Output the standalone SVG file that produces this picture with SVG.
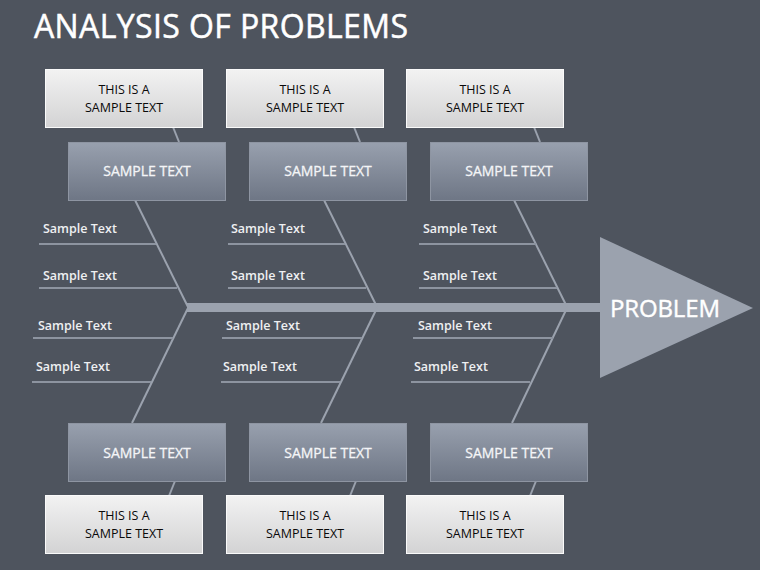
<svg xmlns="http://www.w3.org/2000/svg" width="760" height="570" viewBox="0 0 760 570">
<defs>
<linearGradient id="gLight" x1="0" y1="0" x2="0" y2="1">
<stop offset="0" stop-color="#f2f2f2"/><stop offset="1" stop-color="#d3d3d4"/>
</linearGradient>
<linearGradient id="gMid" x1="0" y1="0" x2="0" y2="1">
<stop offset="0" stop-color="#98a0ae"/><stop offset="1" stop-color="#6e7685"/>
</linearGradient>
<style>
.light{fill:url(#gLight);stroke:#fafafa;stroke-width:1}
.mid{fill:url(#gMid);stroke:#8e95a2;stroke-width:1}
.lt{font-family:"Open Sans","DejaVu Sans",sans-serif;font-size:12.5px;fill:#0a0a0a;text-anchor:middle}
.mt{font-family:"Open Sans","DejaVu Sans",sans-serif;font-size:14px;fill:#f4f5f7;stroke:#f4f5f7;stroke-width:0.3;text-anchor:middle}
.st{font-family:"Open Sans","DejaVu Sans",sans-serif;font-size:12.5px;font-weight:600;fill:#eef0f2}
.bone{stroke:#9ba2ae;stroke-width:2;fill:none}
.hl{stroke:#8d94a0;stroke-width:2;fill:none}
</style>
</defs>
<rect width="760" height="570" fill="#4e545e"/>
<text x="34" y="38" font-family="'Open Sans','DejaVu Sans',sans-serif" font-size="32" textLength="374" fill="#ffffff" stroke="#ffffff" stroke-width="0.5">ANALYSIS OF PROBLEMS</text>

<g id="connectors">
<rect x="187" y="303" width="416" height="9" fill="#9ba2ae"/>
<line class="bone" x1="173" y1="127" x2="179" y2="142"/>
<line class="bone" x1="135" y1="200" x2="188" y2="307"/>
<line class="bone" x1="188" y1="308" x2="132" y2="423"/>
<line class="bone" x1="175" y1="481" x2="169" y2="496"/>
<line class="hl" x1="39" y1="244" x2="156" y2="244"/>
<line class="hl" x1="39" y1="288" x2="177" y2="288"/>
<line class="hl" x1="33" y1="338" x2="173" y2="338"/>
<line class="hl" x1="32" y1="382" x2="151" y2="382"/>
<line class="bone" x1="354" y1="127" x2="360" y2="142"/>
<line class="bone" x1="324" y1="200" x2="377" y2="307"/>
<line class="bone" x1="377" y1="308" x2="321" y2="423"/>
<line class="bone" x1="356" y1="481" x2="350" y2="496"/>
<line class="hl" x1="228" y1="244" x2="345" y2="244"/>
<line class="hl" x1="228" y1="288" x2="366" y2="288"/>
<line class="hl" x1="222" y1="338" x2="362" y2="338"/>
<line class="hl" x1="221" y1="382" x2="340" y2="382"/>
<line class="bone" x1="534" y1="127" x2="540" y2="142"/>
<line class="bone" x1="514" y1="200" x2="567" y2="307"/>
<line class="bone" x1="567" y1="308" x2="512" y2="423"/>
<line class="bone" x1="536" y1="481" x2="530" y2="496"/>
<line class="hl" x1="419" y1="244" x2="536" y2="244"/>
<line class="hl" x1="419" y1="288" x2="557" y2="288"/>
<line class="hl" x1="413" y1="338" x2="553" y2="338"/>
<line class="hl" x1="411" y1="382" x2="530" y2="382"/>
</g>

<g id="labels">
<text class="st" x="43" y="233">Sample Text</text>
<text class="st" x="43" y="280">Sample Text</text>
<text class="st" x="38" y="330">Sample Text</text>
<text class="st" x="36" y="371">Sample Text</text>
<text class="st" x="231" y="233">Sample Text</text>
<text class="st" x="231" y="280">Sample Text</text>
<text class="st" x="226" y="330">Sample Text</text>
<text class="st" x="223" y="371">Sample Text</text>
<text class="st" x="423" y="233">Sample Text</text>
<text class="st" x="423" y="280">Sample Text</text>
<text class="st" x="418" y="330">Sample Text</text>
<text class="st" x="414" y="371">Sample Text</text>
</g>

<g id="problem">
<polygon points="600,237 753,308 600,378" fill="#9ba2ae"/>
<text x="610" y="317" font-family="'Open Sans','DejaVu Sans',sans-serif" font-size="24" textLength="110" fill="#ffffff" stroke="#ffffff" stroke-width="0.4">PROBLEM</text>
</g>

<g id="top1"><rect class="light" x="45.5" y="69.5" width="157" height="58"/><text class="lt" x="124" y="94">THIS IS A</text><text class="lt" x="124" y="111.5">SAMPLE TEXT</text></g>
<g id="top2"><rect class="light" x="226.5" y="69.5" width="157" height="58"/><text class="lt" x="305" y="94">THIS IS A</text><text class="lt" x="305" y="111.5">SAMPLE TEXT</text></g>
<g id="top3"><rect class="light" x="406.5" y="69.5" width="157" height="58"/><text class="lt" x="485" y="94">THIS IS A</text><text class="lt" x="485" y="111.5">SAMPLE TEXT</text></g>

<g id="cause1"><rect class="mid" x="68.5" y="142.5" width="157" height="58"/><text class="mt" x="147" y="176">SAMPLE TEXT</text></g>
<g id="cause2"><rect class="mid" x="249.5" y="142.5" width="157" height="58"/><text class="mt" x="328" y="176">SAMPLE TEXT</text></g>
<g id="cause3"><rect class="mid" x="430.5" y="142.5" width="157" height="58"/><text class="mt" x="509" y="176">SAMPLE TEXT</text></g>

<g id="cause4"><rect class="mid" x="68.5" y="423.5" width="157" height="58"/><text class="mt" x="147" y="458">SAMPLE TEXT</text></g>
<g id="cause5"><rect class="mid" x="249.5" y="423.5" width="157" height="58"/><text class="mt" x="328" y="458">SAMPLE TEXT</text></g>
<g id="cause6"><rect class="mid" x="430.5" y="423.5" width="157" height="58"/><text class="mt" x="509" y="458">SAMPLE TEXT</text></g>

<g id="bot1"><rect class="light" x="45.5" y="495.5" width="157" height="58"/><text class="lt" x="124" y="520">THIS IS A</text><text class="lt" x="124" y="537.5">SAMPLE TEXT</text></g>
<g id="bot2"><rect class="light" x="226.5" y="495.5" width="157" height="58"/><text class="lt" x="305" y="520">THIS IS A</text><text class="lt" x="305" y="537.5">SAMPLE TEXT</text></g>
<g id="bot3"><rect class="light" x="406.5" y="495.5" width="157" height="58"/><text class="lt" x="485" y="520">THIS IS A</text><text class="lt" x="485" y="537.5">SAMPLE TEXT</text></g>
</svg>
